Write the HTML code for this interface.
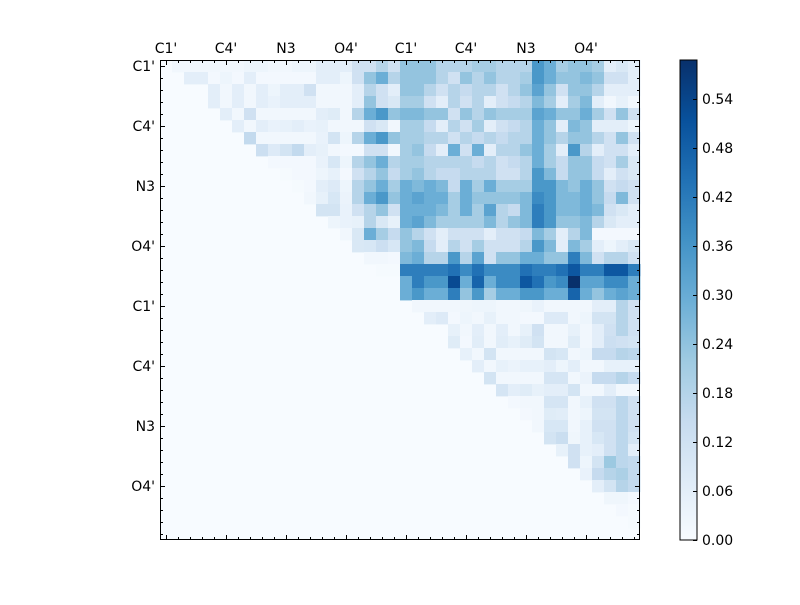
<!DOCTYPE html>
<html><head><meta charset="utf-8"><style>
html,body{margin:0;padding:0;background:#fff;}
svg text{font-family:"DejaVu Sans","Liberation Sans",sans-serif;font-size:14px;fill:#000;}
</style></head><body>
<svg id="s" width="800" height="600" xmlns="http://www.w3.org/2000/svg">
<rect x="0" y="0" width="800" height="600" fill="#fff"/>
<g id="cells"></g>
<g id="ax"></g>
<text x="166" y="53" text-anchor="middle">C1'</text>
<text x="226" y="53" text-anchor="middle">C4'</text>
<text x="286" y="53" text-anchor="middle">N3</text>
<text x="346" y="53" text-anchor="middle">O4'</text>
<text x="406" y="53" text-anchor="middle">C1'</text>
<text x="466" y="53" text-anchor="middle">C4'</text>
<text x="526" y="53" text-anchor="middle">N3</text>
<text x="586" y="53" text-anchor="middle">O4'</text>
<text x="155" y="71" text-anchor="end">C1'</text>
<text x="155" y="131" text-anchor="end">C4'</text>
<text x="155" y="191" text-anchor="end">N3</text>
<text x="155" y="251" text-anchor="end">O4'</text>
<text x="155" y="311" text-anchor="end">C1'</text>
<text x="155" y="371" text-anchor="end">C4'</text>
<text x="155" y="431" text-anchor="end">N3</text>
<text x="155" y="491" text-anchor="end">O4'</text>
<defs><linearGradient id="cb" x1="0" y1="1" x2="0" y2="0">
<stop offset="0" stop-color="#f7fbff"/><stop offset="0.125" stop-color="#deebf7"/>
<stop offset="0.25" stop-color="#c6dbef"/><stop offset="0.375" stop-color="#9ecae1"/>
<stop offset="0.5" stop-color="#6baed6"/><stop offset="0.625" stop-color="#4292c6"/>
<stop offset="0.75" stop-color="#2171b5"/><stop offset="0.875" stop-color="#08519c"/>
<stop offset="1" stop-color="#08306b"/></linearGradient></defs>
<rect x="680" y="60" width="17" height="480" fill="url(#cb)" stroke="#000" stroke-width="1"/>
<g id="cbt"></g>
</svg>
<script>
var stops=["#f7fbff","#deebf7","#c6dbef","#9ecae1","#6baed6","#4292c6","#2171b5","#08519c","#08306b"];
function h2r(h){return [parseInt(h.substr(1,2),16),parseInt(h.substr(3,2),16),parseInt(h.substr(5,2),16)];}
function cmap(f){f=Math.max(0,Math.min(1,f));var p=f*8,i=Math.min(7,Math.floor(p)),t=p-i;var a=h2r(stops[i]),b=h2r(stops[i+1]);
return "rgb("+a.map(function(v,k){return Math.round(v+(b[k]-v)*t);}).join(",")+")";}
var M={};
function setRow(r,c0,arr){for(var i=0;i<arr.length;i++){M[r+","+(c0+i)]=arr[i];}}
// left half rows 0-16 cols 0-19
setRow(0,0,[0,0.3,0.3,0.3,0.3,0.3,0.3,0.5,0.5,0.3,0.3,0.5,0.5,1,1,1,2,2,3,2]);
setRow(1,0,[0,0,1,1,0.2,0.5,0.2,1,0.2,0.2,0.2,0.2,0.2,1,1,0.5,2,4,5,3]);
setRow(2,4,[1,0.3,1,0.3,1,0.5,1,1,2,0.3,0.3,0.3,1,3,2,1]);
setRow(3,4,[1,0.3,1,0.3,1,0.7,1,1,1,0.3,0.3,0.3,1,4,2,1.5]);
setRow(4,5,[1,0.3,2,0.3,0.3,0.3,0.3,0.3,1,1.2,0.3,3,5,6,4]);
setRow(5,6,[1,0.3,1,0.7,0.8,1,0.7,0.8,0.3,0.3,0.3,2,1.5,0.3]);
setRow(6,7,[2.6,0.3,0.3,0.3,0.3,0.3,0.7,1.8,0.5,3,5,6,4]);
setRow(7,8,[2.2,1.3,1.8,2.6,1,0.8,0.3,0.2,0.2,2,2,0.3]);
setRow(8,9,[0.2,0.2,0.2,0.2,0.7,1.6,0.5,3,4,5,3]);
setRow(9,10,[0.1,0.2,0.2,0.5,0.8,0.2,2,3,4,2.5]);
setRow(10,11,[0.1,0.2,1,1.3,0.5,3,4,5,3.5]);
setRow(11,12,[0.3,0.8,1.6,0.6,3,5,6,4]);
setRow(12,13,[1.8,1.8,0.7,2,3,4,2]);
setRow(13,14,[0.5,0.7,0.8,3,1.5,0.8]);
setRow(14,15,[0.3,1.5,5,3.5,2.5]);
setRow(15,16,[1.5,1.6,2.2,1.6]);
setRow(16,17,[0.3,0.3,0.2]);
setRow(17,18,[0.1,0.1]);
var R=[
[4,4,4,3,3,3,3.5,3.5,3,3,3,6,5,3.5,4,4,3.5,1,1.5,1],
[4,4,4,3,2,4,3,4,3,3,3.5,6,5,4,4,4.5,4,2,2,1],
[4,4,3,2,3,2.5,3,3,2,3,4,5.5,4,2,4,4,3,1,1,1],
[3.5,3.5,2,1,3,2,3,1,2,2.5,3,4.5,3.5,1,3.5,4.5,1,0.3,0.8,0.3],
[4.5,4.5,4,4,2,4,3,4,3.5,3.5,3.5,5.5,5,4,4,5,3.5,2,4,2],
[3.5,3.5,2.5,1,3,2,3.5,1,2,2.5,3,5,4,1,4.5,4,1,1,1,0.5],
[3.5,3.5,3,3,2,3,2.5,3,2.5,3,3,5,4,3,4,4,3,2,4,2],
[3.5,4,2.5,1,5,2,5,1,3,3,4,5,3.5,1,6,3,1,2,2,1],
[3.5,3.5,3,3,3,3,2.5,3,2,2.5,3,5,3.5,2.5,4,4,2.5,2,3.5,1.5],
[3.5,4,3,2.5,2.5,3,3,3,2,2,3,6,4.5,2.5,4,4,2.5,1,2,1.5],
[5,4.5,5,4.5,2.5,5,3.5,5,3.5,3.5,3.5,6,6,4.5,4,5,4,2,2.5,2],
[5,5.5,5,5,3.5,5,4,4,4,4,4.5,6.5,6,4.5,4.5,5,4,2.5,4.5,2],
[5,5,5,4.5,3.5,5,3.5,5.5,3,2.5,4.5,7,6,4.5,4.5,5,4.5,2,1.5,1],
[5,5.5,4.5,3.5,3.5,3.5,3.5,4.5,3,4,4.5,7,6,4,4,4.5,3,1.5,1,1],
[4,3,2,1,2,2,2,1,2,2,2.5,4.5,3.5,1,3,4.5,0.2,0.2,0.2,0.2],
[4,4.5,2.5,1,3,2,3.5,2,2,2,3,6,4.5,1,4.5,3.5,1,0.5,1,1.5],
[4.5,5,3,3,6,3,5.5,2,4,4,5,5,4,4,7,4.5,2,3,3,2],
[7,7,7,7,7.5,6.5,7.5,6.5,6.5,6.5,7.5,7,7,7.5,8.5,7,7,8.5,8.5,7],
[5,7,6,6,9,5,8,5,6.5,6.5,8.5,7.5,6,6.5,10,5.5,5.5,6.5,6.5,5],
[5,6,5,5,7,4,6,3.5,5,5,6,6,5,5,8,5,4,5,5.5,5]];
for(var r=0;r<20;r++)setRow(r,20,R[r]);
setRow(20,21,[0.3,0.3,0.3,0.3,0.4,0.5,0.5,0.3,0.3,0.4,0.7,0.3,0.3,0.3,0.3,1,1,3,2]);
setRow(21,22,[1,1.3,0.2,0.5,0.3,0.8,0.3,0.3,0.2,0.2,1.3,1.3,0.3,0.5,1.8,1.8,3,2]);
setRow(22,24,[0.8,0.3,1,0.3,1,0.3,0.8,2,0.3,0.3,0.8,0.3,1,2,3,2]);
setRow(23,24,[1.2,0.2,1.1,0.3,1.1,0.8,1.2,1.8,0.3,0.3,1.2,0.3,1,2.2,2,1.8]);
setRow(24,25,[0.8,0.3,1.8,0.3,0.3,0.3,0.3,1.8,1.6,0.3,0.5,2.5,2.5,3,2.8]);
setRow(25,26,[1,0.3,0.8,0.6,0.8,0.8,1,0.5,1,0.3,0.3,0.8,0.8,0.8]);
setRow(26,27,[1.8,0.3,0.3,0.3,0.3,1.7,1.7,0.3,0.6,2.5,2.5,3,2.5]);
setRow(27,28,[1.7,1,1.2,0.8,1,1,1.8,0.3,0.3,1,0.3,0.3]);
setRow(28,29,[0.2,0.3,0.3,1.7,1.7,0.3,0.8,2,2,2.8,2]);
setRow(29,30,[0.2,0.3,1.2,1.1,0.3,0.5,1.8,1.8,2.8,2]);
setRow(30,31,[0.3,1.6,1.6,0.3,0.8,2,2,2.8,2]);
setRow(31,32,[1.8,2.3,0.4,0.8,1.6,2,2.8,1.8]);
setRow(32,33,[0.8,2,0.8,1,2,2.8,1]);
setRow(33,34,[2,0.5,1.8,3.8,2.8,2.6]);
setRow(34,35,[0.7,2.5,3,3.3,2.6]);
setRow(35,36,[1,1.8,3,2.6]);
setRow(36,37,[0.4,0.4,0.2]);
setRow(37,38,[0.2,0.1]);
setRow(38,39,[0.1]);
var g=document.getElementById("cells"),h='<rect x="160" y="60" width="480" height="480" fill="#f7fbff"/>';
for(var k in M){var p=k.split(","),r=+p[0],c=+p[1];var v=M[k]/10;if(v<=0)continue;
h+='<rect x="'+(160+c*12)+'" y="'+(60+r*12)+'" width="12.4" height="12.4" fill="'+cmap(v)+'"/>';}
g.innerHTML=h;
var a='<rect x="160.5" y="60.5" width="479" height="479" fill="none" stroke="#000" stroke-width="1"/>';
for(var i=0;i<40;i++){var L=(i%5==0)?5:3;var x=166+i*12+0.5,y=66+i*12+0.5;
a+='<line x1="'+x+'" y1="60" x2="'+x+'" y2="'+(60+L)+'" stroke="#000"/>';
a+='<line x1="'+x+'" y1="540" x2="'+x+'" y2="'+(540-L)+'" stroke="#000"/>';
a+='<line x1="160" y1="'+y+'" x2="'+(160+L)+'" y2="'+y+'" stroke="#000"/>';
a+='<line x1="640" y1="'+y+'" x2="'+(640-L)+'" y2="'+y+'" stroke="#000"/>';}
document.getElementById("ax").innerHTML=a;
var t='';
for(var j=0;j<10;j++){var yy=540-j*48.98;var yp=Math.round(yy)+0.5;
t+='<line x1="697" y1="'+yp+'" x2="693" y2="'+yp+'" stroke="#000"/>';
t+='<text x="702" y="'+(yy+5)+'">'+(j*0.06).toFixed(2)+'</text>';}
document.getElementById("cbt").innerHTML=t;
</script>
</body></html>
